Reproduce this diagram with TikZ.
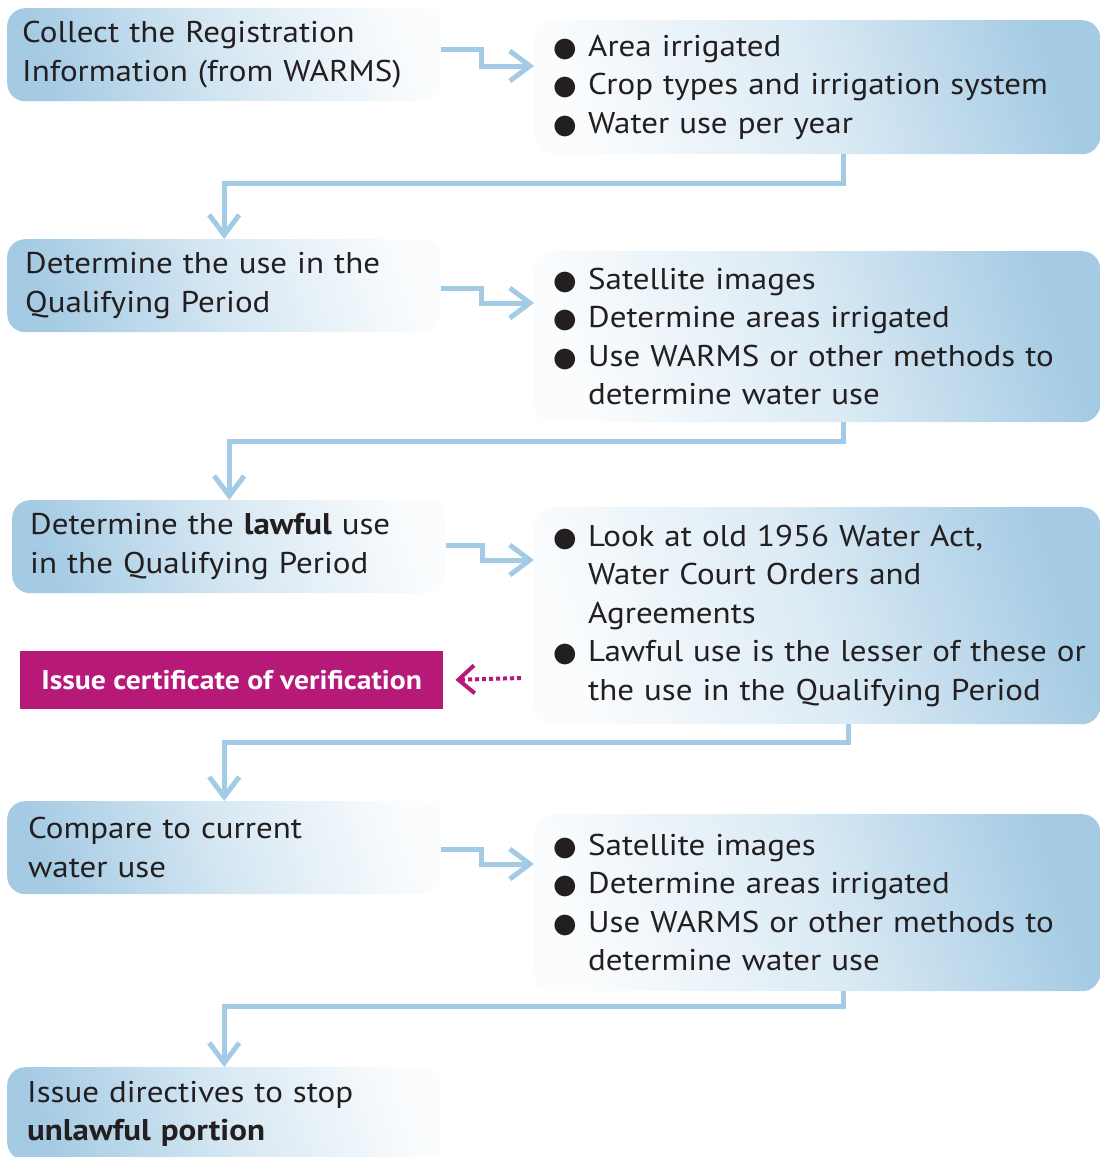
\documentclass[tikz,border=0pt]{standalone}
\usepackage{fontspec}
\setmainfont[FakeStretch=1.1]{PT Sans}
\newfontfamily\symfont{DejaVu Sans}
\usetikzlibrary{arrows.meta}
\definecolor{boxblue}{RGB}{165,203,228}
\definecolor{arrowblue}{RGB}{163,203,230}
\definecolor{certmag}{RGB}{183,25,120}
\definecolor{txt}{RGB}{35,31,32}
\newcommand\bul{\makebox[35pt][l]{\symfont\fontsize{27}{27}\selectfont ●}}
\newcommand\ind{\hspace*{35pt}}
\begin{document}
\begin{tikzpicture}[x=1pt,y=-1pt,
  leftbox/.style={anchor=north west, rounded corners=18pt, shading=axis,
    bottom color=boxblue, top color=boxblue!6, middle color=boxblue!45, shading angle=-72,
    minimum height=93pt, inner xsep=15pt, inner ysep=0pt, text width=404pt, align=left,
    font=\fontsize{30}{38.5}\selectfont, text=txt},
  rightbox/.style={anchor=north west, rounded corners=18pt, shading=axis,
    bottom color=boxblue!6, top color=boxblue, middle color=boxblue!40, shading angle=-72,
    inner xsep=19pt, inner ysep=0pt, text width=528pt, align=left,
    font=\fontsize{30}{38.5}\selectfont, text=txt},
  conn/.style={draw=arrowblue, line width=5pt, -{Straight Barb[length=20pt,width=30pt]}},
  certbox/.style={anchor=north west, fill=certmag, text=white, minimum width=423pt,
    minimum height=58pt, inner sep=0pt, font=\bfseries\fontsize{27}{30}\selectfont},
  certarrow/.style={draw=certmag, line width=4pt, dash pattern=on 4pt off 3pt,
    -{Straight Barb[length=16pt,width=28pt]}}
]
\useasboundingbox (0,0) rectangle (1100,1157);
\clip (0,0) rectangle (1100,1157);

\node[leftbox] (c1) at (7,8) {Collect the Registration\\Information (from WARMS)};
\node[rightbox, minimum height=134pt] (r1) at (534,20)
  {\bul Area irrigated\\\bul Crop types and irrigation system\\\bul Water use per year};

\node[leftbox, inner xsep=18pt, text width=398pt] (c2) at (7,239) {Determine the use in the\\Qualifying Period};
\node[rightbox, minimum height=171pt] (r2) at (534,251)
  {\bul Satellite images\\\bul Determine areas irrigated\\\bul Use WARMS or other methods to\\\ind determine water use};

\node[leftbox, inner xsep=18pt, text width=398pt] (c3) at (12,500) {Determine the \textbf{lawful} use\\in the Qualifying Period};
\node[rightbox, minimum height=217pt] (r3) at (534,507)
  {\bul Look at old 1956 Water Act,\\\ind Water Court Orders and\\\ind Agreements\\\mbox{\bul Lawful use is the lesser of these or}\\\ind the use in the Qualifying Period};

\node[certbox] (cert) at (20,651) {Issue certificate of verification};
\coordinate (d0) at (521,678);

\node[leftbox, inner xsep=21pt, text width=392pt] (c4) at (7,801) {Compare to current\\water use};
\node[rightbox, minimum height=177pt] (r4) at (534,814)
  {\bul Satellite images\\\bul Determine areas irrigated\\\bul Use WARMS or other methods to\\\ind determine water use};

\node[leftbox, inner xsep=20pt, text width=394pt] (c5) at (7,1067) {Issue directives to stop\\\textbf{unlawful portion}};

% side arrows
\draw[conn] (c1.east |- 0,49) -- ++(40,0) |- (r1.west |- 0,66);
\draw[conn] (c2.east |- 0,288) -- ++(40,0) |- (r2.west |- 0,303);
\draw[conn] (c3.east |- 0,545) -- ++(36,0) |- (r3.west |- 0,560);
\draw[conn] (c4.east |- 0,849) -- ++(40,0) |- (r4.west |- 0,864);

% down connectors
\draw[conn] (r1.south -| 843,0) -- ++(0,29) -| (c2.north);
\draw[conn] (r2.south -| 843,0) -- ++(0,19) -| (c3.north);
\draw[conn] (r3.south -| 848,0) -- ++(0,18) -| (c4.north);
\draw[conn] (r4.south -| 843,0) -- ++(0,15) -| (c5.north);

% certificate arrow
\draw[certarrow, shorten >=12pt] (d0) -- (cert.east);
\end{tikzpicture}
\end{document}
